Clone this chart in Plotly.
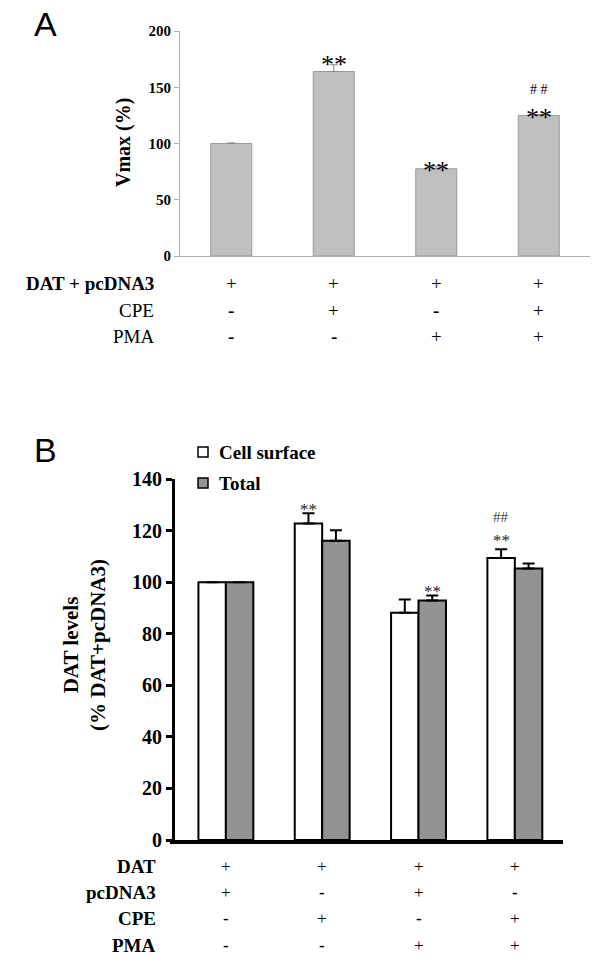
import plotly.graph_objects as go

W, H = 600, 968
def px(x): return x / W
def py(y): return 1 - y / H

# ---- Panel A data ----
a_groups = [0, 1, 2, 3]
a_vmax = [100, 164, 77.5, 125]
a_err = [0.5, 6, 2.4, 0.8]
a_rows = ["DAT + pcDNA3", "CPE", "PMA"]
a_signs = [["+", "+", "+", "+"], ["-", "+", "-", "+"], ["-", "-", "+", "+"]]
a_yticks = [0, 50, 100, 150, 200]

# ---- Panel B data ----
b_groups = [0, 1, 2, 3]
b_surface = [100, 122.7, 88.1, 109.4]
b_surface_err = [0, 4.0, 5.2, 3.4]
b_total = [100, 116.1, 92.9, 105.3]
b_total_err = [0, 4.0, 1.9, 1.9]
b_rows = ["DAT", "pcDNA3", "CPE", "PMA"]
b_signs = [["+", "+", "+", "+"], ["+", "-", "+", "-"], ["-", "+", "-", "+"], ["-", "-", "+", "+"]]
b_yticks = [0, 20, 40, 60, 80, 100, 120, 140]

SERIF = "Liberation Serif"
SANS = "Liberation Sans"

fig = go.Figure()

fig.add_trace(go.Bar(
    x=a_groups, y=a_vmax, width=0.4, xaxis="x", yaxis="y",
    marker=dict(color="#c0c0c0", line=dict(color="#9a9a9a", width=1)),
    error_y=dict(type="data", symmetric=False, array=a_err, arrayminus=[0]*4,
                 color="#8a8a8a", thickness=1, width=4),
    showlegend=False))

fig.add_trace(go.Bar(
    x=b_groups, y=b_surface, width=0.285, offset=-0.285, xaxis="x2", yaxis="y2",
    marker=dict(color="white", line=dict(color="black", width=2)),
    error_y=dict(type="data", symmetric=False, array=b_surface_err, arrayminus=[0]*4,
                 color="black", thickness=2, width=6),
    showlegend=False))
fig.add_trace(go.Bar(
    x=b_groups, y=b_total, width=0.285, offset=0, xaxis="x2", yaxis="y2",
    marker=dict(color="#939393", line=dict(color="black", width=2)),
    error_y=dict(type="data", symmetric=False, array=b_total_err, arrayminus=[0]*4,
                 color="black", thickness=2, width=6),
    showlegend=False))

ann = []
def add(text, x, y, xref="paper", size=19, family=SERIF, color="black", xanchor="center", **kw):
    ann.append(dict(text=text, x=x, y=y, xref=xref, yref="paper", showarrow=False,
                    xanchor=xanchor, yanchor="middle",
                    font=dict(family=family, size=size, color=color), **kw))

# Panel letters
add("A", px(45), py(24), family=SANS, size=34)
add("B", px(45), py(450), family=SANS, size=34)

# Panel A axis title
add("<b>Vmax (%)</b>", px(124), py(143), size=20, textangle=-90)
# Panel A significance
add("**", 1, py(65), xref="x", size=26)
add("**", 2, py(170), xref="x", size=26)
add("**", 3, py(117), xref="x", size=26)
add("# #", 3, py(90), xref="x", size=14)

# Panel A rows
a_row_y = [283, 310, 337]
for i, (lab, signs) in enumerate(zip(a_rows, a_signs)):
    txt = f"<b>{lab}</b>" if i == 0 else lab
    add(txt, px(156), py(a_row_y[i]), xanchor="right", size=19)
    for g, s in zip(a_groups, signs):
        t = "<b>-</b>" if s == "-" else "+"
        add(t, g, py(a_row_y[i]), xref="x", size=19)

# Panel B axis title
add("<b>DAT levels<br>(% DAT+pcDNA3)</b>", px(84), py(645), size=21, textangle=-90)

# Panel B significance
add("**", 1 - 0.1425, py(509), xref="x2", size=17, color="#222")
add("**", 2 + 0.1425, py(591), xref="x2", size=17, color="#222")
add("**", 3 - 0.1425, py(540), xref="x2", size=17, color="#222")
add("##", 3 - 0.1425, py(517), xref="x2", size=15, color="#444")

# Panel B legend
for lab, yy in [("Cell surface", 452), ("Total", 483)]:
    add(f"<b>{lab}</b>", px(217), py(yy), xanchor="left", size=19)

# Panel B rows
b_row_y = [866, 892, 918, 945]
for i, (lab, signs) in enumerate(zip(b_rows, b_signs)):
    add(f"<b>{lab}</b>", px(158), py(b_row_y[i]), xanchor="right", size=19)
    for g, s in zip(b_groups, signs):
        t = "<b>-</b>" if s == "-" else "+"
        add(t, g, py(b_row_y[i]), xref="x2", size=17)

shapes = []
for col, yy in [("white", 452), ("#939393", 483)]:
    shapes.append(dict(type="rect", xref="paper", yref="paper",
                       x0=px(198), x1=px(208), y0=py(yy - 5), y1=py(yy + 5),
                       fillcolor=col, line=dict(color="black", width=1.5)))

fig.update_layout(
    width=W, height=H, margin=dict(l=0, r=0, t=0, b=0, autoexpand=False), autosize=False,
    paper_bgcolor="white", plot_bgcolor="white",
    barmode="overlay", showlegend=False,
    annotations=ann, shapes=shapes,
    xaxis=dict(domain=[px(180), px(590)], range=[-0.5, 3.5], anchor="y",
               showticklabels=False, ticks="", showgrid=False, zeroline=False,
               showline=True, linecolor="#b0b0b0", linewidth=1),
    yaxis=dict(domain=[py(256), py(31)], range=[0, 200], anchor="x",
               tickvals=a_yticks, ticks="outside", ticklen=5, tickcolor="#b0b0b0",
               showgrid=False, zeroline=False, showline=True, linecolor="#b0b0b0", linewidth=1,
               tickfont=dict(family=SERIF, size=15, color="black", weight="bold")),
    xaxis2=dict(domain=[px(170), px(563)], range=[-0.58, 3.5], anchor="y2",
                showticklabels=False, ticks="", showgrid=False, zeroline=False,
                showline=True, linecolor="black", linewidth=3.5),
    yaxis2=dict(domain=[py(840), py(479)], range=[0, 140], anchor="free", position=px(173),
                tickvals=b_yticks, ticks="outside", ticklen=6, tickwidth=2.5, tickcolor="black",
                showgrid=False, zeroline=False, showline=True, linecolor="black", linewidth=3,
                tickfont=dict(family=SERIF, size=20, color="black", weight="bold")),
)

fig.write_html(
    "out.html",
    config={"displayModeBar": False, "responsive": False},
    post_script="document.body.style.margin='0';document.documentElement.style.overflow='hidden';",
)
